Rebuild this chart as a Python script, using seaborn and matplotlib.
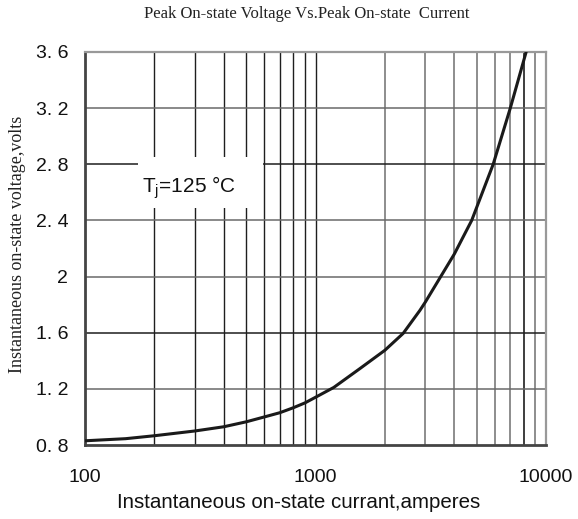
import matplotlib
matplotlib.use("Agg")
import matplotlib.pyplot as plt
import seaborn as sns
import pandas as pd
from matplotlib.ticker import FixedLocator, NullFormatter, NullLocator
from matplotlib.patches import Rectangle

current = [100, 150, 200, 300, 400, 500, 600, 700, 800, 900, 1000, 1200,
           1560, 2000, 2400, 2840, 3000, 4000, 4760, 5900, 7000, 8200]
voltage = [0.83, 0.845, 0.866, 0.90, 0.93, 0.965, 1.0, 1.03, 1.065, 1.10, 1.14, 1.21,
           1.345, 1.475, 1.595, 1.76, 1.82, 2.16, 2.40, 2.80, 3.20, 3.60]
y_ticks = [0.8, 1.2, 1.6, 2.0, 2.4, 2.8, 3.2, 3.6]
y_tick_labels = ["0. 8", "1. 2", "1. 6", "2", "2. 4", "2. 8", "3. 2", "3. 6"]
x_ticks = [100, 1000, 10000]
x_tick_labels = ["100", "1000", "10000"]
grid_x_first = [200, 300, 400, 500, 600, 700, 800, 900, 1000]
grid_x_second = [2000, 3000, 4000, 5000, 6000, 7000, 8000, 9000]

df = pd.DataFrame({"current": current, "voltage": voltage})

sns.set_style("white")
plt.rcParams['font.family'] = ['Liberation Sans', 'DejaVu Sans']

fig = plt.figure(figsize=(5.78, 5.19), dpi=100)
ax = fig.add_axes([85/578, 1-445/519, (546-85)/578, (445-52)/519])

ax.set_xscale("log")
ax.set_xlim(100, 10000)
ax.set_ylim(0.8, 3.6)

for xv in grid_x_first:
    ax.axvline(xv, color="#1e1e1e", lw=1.0, zorder=1)
for xv in grid_x_second:
    ax.axvline(xv, color="#1e1e1e" if xv == 8000 else "#7a7a7a", lw=1.2, zorder=1)
for yv in y_ticks[1:-1]:
    dark = yv in (2.8, 1.6)
    ax.axhline(yv, color="#1e1e1e" if dark else "#6a6a6a", lw=1.1, zorder=1)

ax.add_patch(Rectangle((0.115, 0.603), 0.271, 0.130, transform=ax.transAxes,
                       facecolor="white", edgecolor="none", zorder=2))

sns.lineplot(data=df, x="current", y="voltage", ax=ax, color="#1a1a1a",
             lw=2.2, zorder=3, legend=False)

ax.xaxis.set_major_locator(FixedLocator(x_ticks))
ax.set_xticklabels(x_tick_labels)
ax.xaxis.set_minor_locator(NullLocator())
ax.xaxis.set_minor_formatter(NullFormatter())
ax.set_yticks(y_ticks)
ax.set_yticklabels(y_tick_labels)
ax.tick_params(axis="both", length=0, labelsize=14, colors="#111111")
ax.tick_params(axis="x", pad=17)
ax.tick_params(axis="y", pad=12)

for side in ["top", "right"]:
    ax.spines[side].set_color("#999999")
    ax.spines[side].set_linewidth(1.6)
for side in ["left", "bottom"]:
    ax.spines[side].set_color("#444444")
    ax.spines[side].set_linewidth(2.0)

ax.set_xlabel("Instantaneous on-state currant,amperes", fontsize=14.8, color="#111111")
ax.set_ylabel("Instantaneous on-state voltage,volts", fontsize=13,
              family=["Liberation Serif", "DejaVu Serif"], color="#222222")
ax.yaxis.set_label_coords(-0.128, 0.51)
ax.xaxis.set_label_coords(0.464, -0.122)

fig.text(307/578, 1-14/519, "Peak On-state Voltage Vs.Peak On-state  Current",
         ha="center", va="center", fontsize=12,
         family=["Liberation Serif", "DejaVu Serif"], color="#222222")

ax.text(0.124, 0.655, r"T$_\mathregular{j}$=125 °C", transform=ax.transAxes,
        fontsize=15, ha="left", va="center", color="#111111", zorder=4)

fig.savefig("out.png", dpi=100)
